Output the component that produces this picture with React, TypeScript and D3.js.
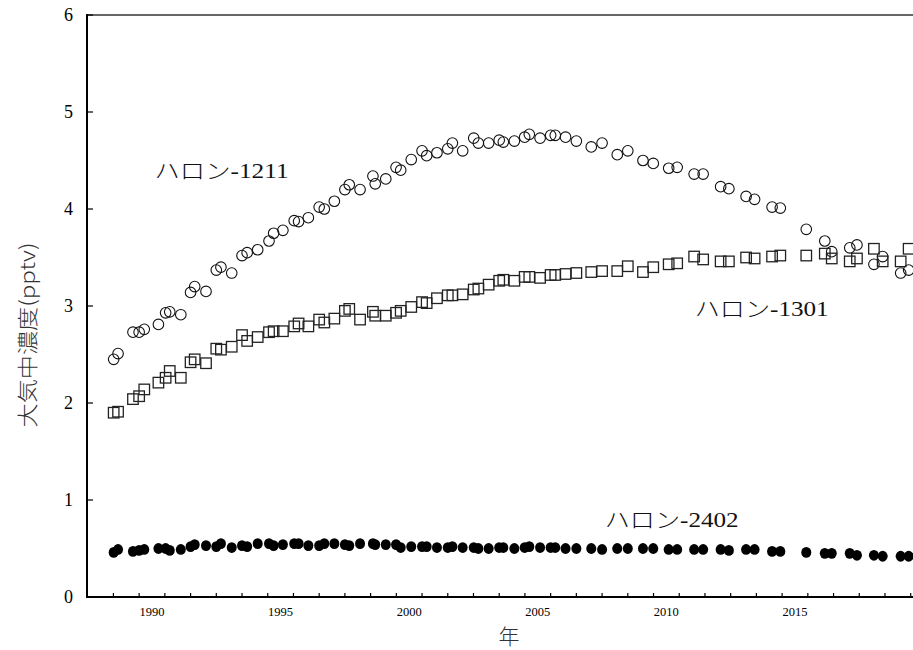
import React from "react";
import * as d3 from "d3";

const years: number[] = [
  1989.01, 1989.18, 1989.76, 1990.0, 1990.2, 1990.75, 1991.03, 1991.19, 1991.62, 1992.0,
  1992.16, 1992.6, 1993.0, 1993.18, 1993.6, 1994.0, 1994.2, 1994.61, 1995.05, 1995.23,
  1995.59, 1996.03, 1996.2, 1996.58, 1997.0, 1997.2, 1997.59, 1998.0, 1998.17, 1998.59,
  1999.09, 1999.18, 1999.59, 1999.99, 2000.17, 2000.58, 2001.0, 2001.18, 2001.58, 2002.0,
  2002.18, 2002.58, 2003.01, 2003.19, 2003.59, 2004.0, 2004.16, 2004.59, 2004.99, 2005.17,
  2005.59, 2006.0, 2006.18, 2006.58, 2007.0, 2007.58, 2008.0, 2008.59, 2009.0, 2009.59,
  2009.99, 2010.59, 2010.92, 2011.58, 2011.93, 2012.61, 2012.93, 2013.6, 2013.93, 2014.61,
  2014.93, 2015.94, 2016.66, 2016.93, 2017.63, 2017.91, 2018.57, 2018.91, 2019.61, 2019.92,
];

const halon1211: number[] = [
  2.45, 2.51, 2.73, 2.73, 2.76, 2.81, 2.93, 2.94, 2.91, 3.14,
  3.2, 3.15, 3.37, 3.4, 3.34, 3.52, 3.55, 3.58, 3.67, 3.75,
  3.78, 3.88, 3.87, 3.91, 4.02, 4.0, 4.08, 4.2, 4.25, 4.2,
  4.34, 4.26, 4.31, 4.43, 4.4, 4.51, 4.6, 4.55, 4.58, 4.62,
  4.68, 4.6, 4.73, 4.68, 4.68, 4.71, 4.69, 4.7, 4.74, 4.77,
  4.73, 4.76, 4.76, 4.74, 4.7, 4.64, 4.68, 4.56, 4.6, 4.5,
  4.47, 4.42, 4.43, 4.36, 4.36, 4.23, 4.21, 4.13, 4.1, 4.02,
  4.01, 3.79, 3.67, 3.56, 3.6, 3.63, 3.43, 3.51, 3.34, 3.37,
];

const halon1301: number[] = [
  1.9, 1.91, 2.04, 2.07, 2.14, 2.21, 2.26, 2.33, 2.26, 2.42,
  2.45, 2.41, 2.56, 2.55, 2.58, 2.7, 2.64, 2.68, 2.73, 2.74,
  2.74, 2.79, 2.82, 2.79, 2.86, 2.83, 2.87, 2.95, 2.97, 2.86,
  2.94, 2.9, 2.9, 2.93, 2.95, 2.99, 3.04, 3.03, 3.08, 3.11,
  3.11, 3.12, 3.17, 3.18, 3.22, 3.26, 3.27, 3.26, 3.3, 3.3,
  3.29, 3.32, 3.32, 3.33, 3.34, 3.35, 3.36, 3.36, 3.41, 3.35,
  3.4, 3.43, 3.44, 3.51, 3.48, 3.46, 3.46, 3.5, 3.49, 3.51,
  3.52, 3.52, 3.54, 3.49, 3.46, 3.49, 3.59, 3.46, 3.46, 3.59,
];

const halon2402: number[] = [
  0.46, 0.49, 0.47, 0.48, 0.49, 0.5, 0.5, 0.48, 0.49, 0.52,
  0.54, 0.53, 0.52, 0.55, 0.51, 0.53, 0.52, 0.55, 0.55, 0.53,
  0.54, 0.55, 0.55, 0.53, 0.53, 0.55, 0.55, 0.54, 0.53, 0.55,
  0.55, 0.54, 0.54, 0.54, 0.51, 0.52, 0.52, 0.52, 0.51, 0.51,
  0.52, 0.51, 0.51, 0.5, 0.5, 0.51, 0.51, 0.5, 0.51, 0.52,
  0.51, 0.51, 0.51, 0.5, 0.5, 0.5, 0.49, 0.5, 0.5, 0.5,
  0.5, 0.49, 0.49, 0.49, 0.49, 0.49, 0.48, 0.49, 0.49, 0.47,
  0.47, 0.46, 0.45, 0.45, 0.45, 0.43, 0.43, 0.42, 0.42, 0.42,
];

const yTicks: number[] = [0, 1, 2, 3, 4, 5, 6];
const xLabelYears: number[] = [1990, 1995, 2000, 2005, 2010, 2015];
const seriesLabels: string[] = ["ハロン-1211", "ハロン-1301", "ハロン-2402"];
const labelAnchors: [number, number][] = [
  [1990.6, 4.32],
  [2011.6, 2.9],
  [2008.1, 0.72],
];
const yTitle = "大気中濃度(pptv)";
const xTitle = "年";

const W = 913;
const H = 650;

export default function App() {
  const x = d3.scaleLinear().domain([1988, 2020]).range([87.7, 910.7]);
  const y = d3.scaleLinear().domain([0, 6]).range([597, 15]);
  const minorYears = d3.range(1989, 2021);
  const serif = "'Liberation Serif', 'Times New Roman', 'Noto Sans CJK JP', serif";
  const cjk = "'Noto Sans CJK JP', sans-serif";
  const sq = 10.5;

  return (
    <svg
      width={W}
      height={H}
      style={{ position: "absolute", left: 0, top: 0, background: "#fff" }}
    >
      <rect x={0} y={0} width={W} height={H} fill="#fff" />
      {/* series 1211 circles */}
      <g>
        {years.map((t, i) => (
          <circle
            key={"a" + i}
            cx={x(t)}
            cy={y(halon1211[i])}
            r={5.3}
            fill="none"
            stroke="#111"
            strokeWidth={1.1}
          />
        ))}
      </g>
      {/* series 1301 squares */}
      <g>
        {years.map((t, i) => (
          <rect
            key={"b" + i}
            x={x(t) - sq / 2}
            y={y(halon1301[i]) - sq / 2}
            width={sq}
            height={sq}
            fill="none"
            stroke="#222"
            strokeWidth={1.3}
          />
        ))}
      </g>
      {/* series 2402 filled circles */}
      <g>
        {years.map((t, i) => (
          <ellipse
            key={"c" + i}
            cx={x(t)}
            cy={y(halon2402[i])}
            rx={5}
            ry={5.4}
            fill="#000"
          />
        ))}
      </g>

      {/* axes */}
      <line x1={87} x2={W} y1={y(6)} y2={y(6)} stroke="#333" strokeWidth={1.6} />
      <line x1={87} x2={87} y1={y(6) - 1} y2={y(0) + 1} stroke="#000" strokeWidth={2} />
      <line x1={86} x2={W} y1={y(0)} y2={y(0)} stroke="#000" strokeWidth={2} />
      {yTicks.map((v) => (
        <g key={"yt" + v}>
          <line x1={87} x2={93} y1={y(v)} y2={y(v)} stroke="#000" strokeWidth={1.2} />
          <text
            x={73}
            y={y(v) + 6}
            textAnchor="end"
            fontFamily={serif}
            fontSize={18}
            fill="#000"
          >
            {v}
          </text>
        </g>
      ))}
      {minorYears.map((yr) => (
        <line
          key={"xt" + yr}
          x1={x(yr)}
          x2={x(yr)}
          y1={y(0)}
          y2={y(0) - 4}
          stroke="#000"
          strokeWidth={1.2}
        />
      ))}
      {xLabelYears.map((yr) => (
        <text
          key={"xl" + yr}
          x={x(yr + 0.5)}
          y={616}
          textAnchor="middle"
          fontFamily={serif}
          fontSize={12.5}
          fill="#000"
        >
          {yr}
        </text>
      ))}

      {/* series labels */}
      {seriesLabels.map((s, i) => (
        <text
          key={"sl" + i}
          x={x(labelAnchors[i][0])}
          y={y(labelAnchors[i][1])}
          fontFamily={serif}
          fontSize={21}
          fontWeight={300}
          textLength={134}
          lengthAdjust="spacingAndGlyphs"
          fill="#111"
        >
          {s}
        </text>
      ))}

      {/* titles */}
      <text
        x={509}
        y={644}
        textAnchor="middle"
        fontFamily={cjk}
        fontSize={21}
        fontWeight={300}
        fill="#333"
      >
        {xTitle}
      </text>
      <text
        transform={`translate(35,335) rotate(-90)`}
        textAnchor="middle"
        fontFamily={cjk}
        fontSize={21}
        fontWeight={300}
        textLength={185}
        lengthAdjust="spacingAndGlyphs"
        fill="#333"
      >
        {yTitle}
      </text>
    </svg>
  );
}
